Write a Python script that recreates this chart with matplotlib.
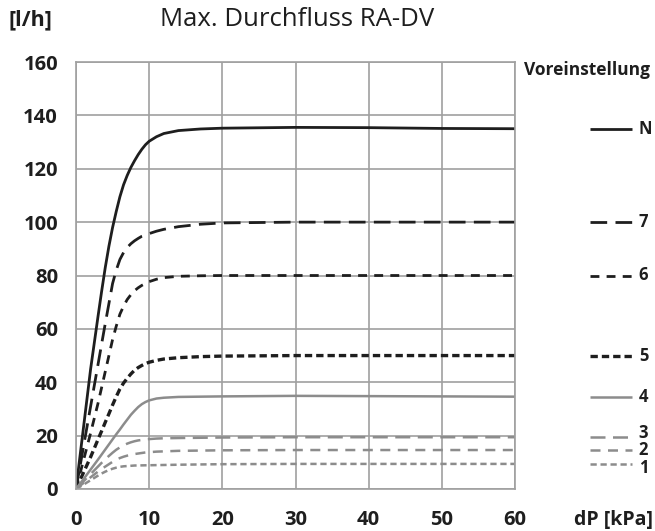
import matplotlib
matplotlib.use("Agg")
import matplotlib.pyplot as plt
from matplotlib.transforms import blended_transform_factory

plt.rcParams['font.family'] = ['Open Sans', 'DejaVu Sans']

# ---- data ----
dp = [0, 1, 2, 3, 3.5, 4, 4.5, 5, 5.5, 6, 6.5, 7, 7.5, 8, 8.5, 9, 9.5, 10,
      11, 12, 14, 17, 20, 30, 40, 50, 60]
flow_N = [0, 22.5, 45, 64.5, 74, 83, 91, 98, 104, 109.5, 114, 117.5, 120.5, 123, 125.3, 127.3, 129, 130.3,
          132, 133.2, 134.3, 134.9, 135.2, 135.5, 135.4, 135.1, 135]
flow_7 = [0, 15.5, 31, 46.5, 54.3, 62, 69.5, 77, 82, 86, 88.6, 90.5, 91.9, 93, 93.9, 94.7, 95.2, 95.7,
          96.6, 97.3, 98.3, 99.2, 99.7, 100, 100, 100, 100]
flow_6 = [0, 10.5, 21, 32, 38, 44, 50, 56, 61, 65.5, 68.5, 71, 72.8, 74.3, 75.4, 76.3, 77, 77.7,
          78.6, 79.2, 79.7, 79.9, 80, 80, 80, 80, 80]
flow_5 = [0, 6, 12, 18.5, 21.7, 25, 28.2, 31.5, 34.6, 37.5, 39.7, 41.5, 43.1, 44.5, 45.5, 46.3, 47, 47.5,
          48.2, 48.7, 49.2, 49.6, 49.8, 50, 50, 50, 50]
flow_4 = [0, 3.6, 7.3, 11, 12.9, 14.8, 16.7, 18.6, 20.5, 22.3, 24.2, 26, 27.8, 29.3, 30.7, 31.8, 32.6, 33.2,
          33.9, 34.2, 34.5, 34.6, 34.7, 34.9, 34.8, 34.7, 34.6]
flow_3 = [0, 2.8, 5.6, 8.4, 9.8, 11.1, 12.4, 13.6, 14.7, 15.6, 16.4, 17, 17.5, 17.9, 18.2, 18.4, 18.6, 18.7,
          18.9, 19, 19.1, 19.2, 19.3, 19.4, 19.4, 19.4, 19.4]
flow_2 = [0, 2.2, 4.4, 6.5, 7.5, 8.4, 9.3, 10.2, 11, 11.6, 12.1, 12.5, 12.8, 13.1, 13.3, 13.5, 13.7, 13.8,
          14, 14.1, 14.3, 14.4, 14.5, 14.6, 14.6, 14.6, 14.6]
flow_1 = [0, 1.6, 3.3, 5, 5.8, 6.5, 7.1, 7.6, 8, 8.3, 8.5, 8.6, 8.7, 8.8, 8.82, 8.85, 8.88, 8.9,
          8.95, 9.0, 9.1, 9.2, 9.3, 9.4, 9.4, 9.4, 9.4]
labels = ['N', '7', '6', '5', '4', '3', '2', '1']
x_ticks = [0, 10, 20, 30, 40, 50, 60]
y_ticks = [0, 20, 40, 60, 80, 100, 120, 140, 160]

series = [flow_N, flow_7, flow_6, flow_5, flow_4, flow_3, flow_2, flow_1]

black = '#1e1e1e'
grey = '#8c8c8c'
styles = [
    dict(color=black, lw=2.0, ls='-'),
    dict(color=black, lw=2.0, ls=(0, (6, 3))),
    dict(color=black, lw=2.0, ls=(0, (3.2, 2.6))),
    dict(color=black, lw=2.4, ls=(0, (2.2, 1.2))),
    dict(color=grey, lw=1.8, ls='-'),
    dict(color=grey, lw=1.8, ls=(0, (6, 3))),
    dict(color=grey, lw=1.8, ls=(0, (4, 3))),
    dict(color=grey, lw=1.8, ls=(0, (2.5, 1.5))),
]
label_dy = [0, 0, 0, 0, 0, 3.2, -0.3, -2.6]   # small vertical nudges (points)

fig = plt.figure(figsize=(6.55, 5.31), dpi=100)
ax = fig.add_axes([76/655, 42/531, 439/655, 427/531])

for ys, st in zip(series, styles):
    ax.plot(dp, ys, solid_capstyle='butt', dash_capstyle='butt',
            solid_joinstyle='round', **st)

ax.set_xlim(0, 60)
ax.set_ylim(0, 160)
ax.set_xticks(x_ticks)
ax.set_yticks(y_ticks)
ax.grid(True, color='#a0a0a0', lw=1.2)
ax.set_axisbelow(True)
for s in ax.spines.values():
    s.set_color('#a0a0a0')
    s.set_linewidth(1.2)
ax.tick_params(length=0, labelsize=14.5, labelcolor=black)
ax.tick_params(axis='y', pad=13)
ax.tick_params(axis='x', pad=15)
for t in ax.get_xticklabels() + ax.get_yticklabels():
    t.set_fontweight('bold')

# legend drawn at the curve end levels
trans = blended_transform_factory(ax.transAxes, ax.transData)
for ys, st, lab, dy in zip(series, styles, labels, label_dy):
    ax.plot([1.171, 1.267], [ys[-1], ys[-1]], transform=trans, clip_on=False,
            solid_capstyle='butt', dash_capstyle='butt', **st)
    ax.annotate(lab, xy=(1.282, ys[-1]), xycoords=trans, xytext=(0, dy),
                textcoords='offset points', va='center', ha='left',
                fontsize=12, fontweight='bold', color=black,
                annotation_clip=False)

fig.text(8/655, 1 - 20/531, '[l/h]', fontsize=15.5, fontweight='bold', va='center', ha='left', color=black)
fig.text(160/655, 1 - 19/531, 'Max. Durchfluss RA-DV', fontsize=18.5, va='center', ha='left', color=black)
fig.text(524/655, 1 - 70/531, 'Voreinstellung', fontsize=12.5, fontweight='bold', va='center', ha='left', color=black)
fig.text(574/655, 1 - 520/531, 'dP [kPa]', fontsize=14, fontweight='bold', va='center', ha='left', color=black)

fig.savefig('out.png', dpi=100)
